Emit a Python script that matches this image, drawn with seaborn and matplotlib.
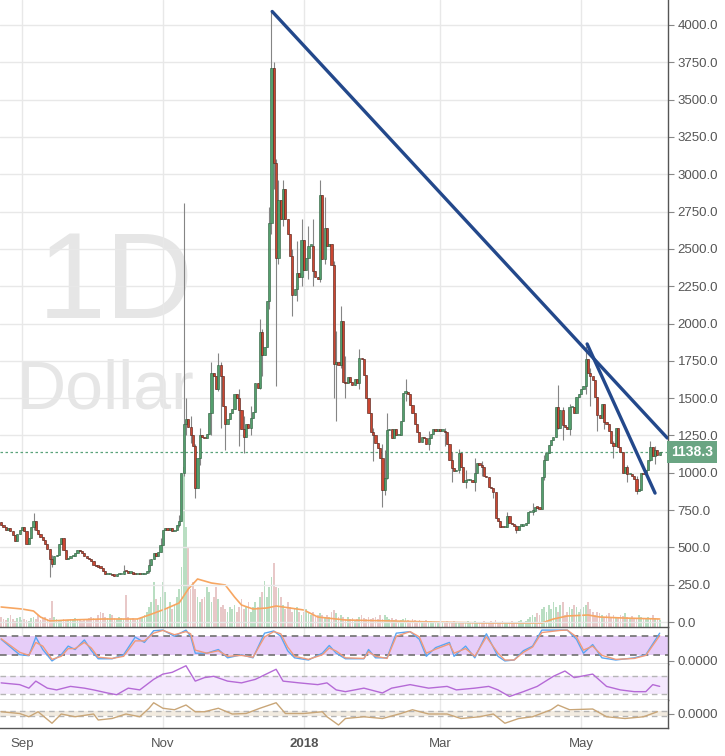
import numpy as np
import pandas as pd
import seaborn as sns
import matplotlib.pyplot as plt
from matplotlib.transforms import blended_transform_factory

sns.set_style('white')
plt.rcParams['font.family'] = ['Liberation Sans', 'DejaVu Sans']

# daily candles, 23 Aug 2017 .. 4 Jun 2018 (x = days since 1 Sep 2017)
origin = pd.Timestamp('2017-09-01')
dates = pd.date_range('2017-08-23', '2018-06-04', freq='D')

open_first = 670
closes = [
    650, 640, 620, 630, 610, 580, 545, 590, 620, 640,
    610, 520, 560, 640, 680, 620, 590, 570, 550, 520,
    490, 420, 390, 440, 450, 520, 560, 480, 420, 430,
    440, 440, 460, 480, 475, 460, 440, 430, 420, 410,
    380, 375, 370, 365, 345, 320, 320, 325, 315, 310,
    320, 320, 325, 345, 340, 330, 330, 325, 320, 325,
    320, 320, 330, 345, 380, 420, 460, 440, 470, 515,
    615, 630, 620, 630, 610, 620, 650, 680, 1000, 1330,
    1360, 1310, 1250, 1180, 900, 1100, 1250, 1240, 1230, 1260,
    1400, 1670, 1650, 1560, 1720, 1650, 1450, 1330, 1360, 1400,
    1430, 1530, 1500, 1420, 1290, 1240, 1330, 1300, 1370, 1410,
    1600, 1570, 1940, 1790, 1840, 2150, 2670, 3710, 3075, 2440,
    2830, 2700, 2900, 2700, 2600, 2450, 2190, 2230, 2340, 2310,
    2560, 2360, 2440, 2520, 2520, 2350, 2310, 2300, 2860, 2435,
    2640, 2520, 2530, 2390, 1730, 1740, 1720, 2020, 1610, 1600,
    1640, 1610, 1590, 1630, 1600, 1770, 1760, 1655, 1500, 1400,
    1275, 1250, 1200, 1165, 1100, 885, 965, 1285, 1290, 1230,
    1290, 1250, 1250, 1350, 1535, 1540, 1530, 1455, 1400, 1330,
    1275, 1205, 1240, 1230, 1195, 1230, 1260, 1290, 1280, 1285,
    1280, 1280, 1270, 1190, 1085, 1030, 1010, 1020, 1130, 1040,
    935, 950, 950, 955, 940, 1000, 1065, 1055, 1040, 980,
    970, 905, 895, 870, 700, 680, 640, 635, 640, 710,
    665, 655, 645, 615, 645, 645, 650, 665, 735, 740,
    745, 770, 765, 760, 975, 1085, 1130, 1185, 1220, 1240,
    1440, 1300, 1420, 1320, 1310, 1290, 1440, 1440, 1400, 1510,
    1530, 1560, 1580, 1760, 1670, 1650, 1620, 1510, 1390, 1370,
    1460, 1340, 1330, 1280, 1200, 1180, 1300, 1175, 1140, 1000,
    1040, 990, 995, 980, 960, 880, 885, 1000, 990, 1020,
    1085, 1170, 1110, 1155, 1120, 1138.3,
]

# visible wicks (day, high, low)
wick_days = [5, 12, 13, 44, 55, 60, 68, 70, 71, 73, 75, 77, 82, 85, 86, 88, 94, 96, 99,
             103, 104, 107, 108, 109, 110, 111, 113, 117, 119, 121, 124, 126, 129, 131,
             135, 136, 138, 140, 146, 152, 156, 157, 158, 166, 176, 183, 186, 189, 192,
             196, 199, 204, 210, 214, 221, 226, 232, 234, 237, 244, 246, 249, 252, 256,
             262, 266, 272, 274]
wick_high = [730, 420, 450, 380, 420, 560, 720, 2810, 1500, 1380, 1190, 1300, 1740, 1800,
             1740, 1420, 1560, 1380, 1450, 2030, 1960, 2780, 4090, 3750, 3100, 2960, 2960,
             2500, 2550, 2700, 2650, 2700, 2960, 2850, 2420, 1950, 2120, 1780, 1830, 1300,
             1190, 1150, 1400, 1630, 1280, 1300, 1140, 1160, 1020, 1100, 1080, 900, 740,
             650, 800, 1120, 1590, 1440, 1460, 1850, 1700, 1500, 1450, 1210, 1050, 980,
             1210, 1180]
wick_low = [620, 300, 370, 320, 330, 470, 640, 980, 1250, 1200, 830, 1050, 1250, 1550,
            1300, 1150, 1180, 1130, 1250, 1560, 1650, 2100, 2600, 2900, 1580, 2400, 2650,
            2050, 2150, 2250, 2300, 2250, 2280, 2400, 1500, 1350, 1700, 1500, 1560, 1080,
            770, 850, 960, 1480, 1150, 1180, 940, 1000, 900, 880, 980, 830, 640, 600, 720,
            950, 1290, 1220, 1250, 1530, 1450, 1280, 1290, 1100, 940, 860, 1080, 1060]

volume = [
    10, 8, 7, 9, 12, 8, 6, 9, 10, 7,
    8, 7, 6, 9, 10, 8, 12, 7, 9, 10,
    8, 9, 26, 10, 8, 6, 7, 8, 6, 7,
    8, 7, 9, 8, 7, 6, 8, 7, 9, 10,
    9, 8, 12, 15, 14, 10, 9, 13, 12, 9,
    8, 10, 9, 8, 32, 10, 8, 9, 7, 8,
    9, 10, 12, 15, 20, 25, 45, 28, 22, 30,
    45, 35, 20, 25, 18, 22, 30, 38, 60, 160,
    100, 80, 38, 45, 38, 30, 25, 28, 30, 40,
    35, 25, 30, 40, 28, 20, 22, 18, 15, 20,
    18, 22, 15, 20, 28, 18, 20, 25, 15, 20,
    25, 20, 30, 35, 46, 30, 40, 50, 64, 40,
    39, 30, 22, 18, 25, 20, 15, 18, 20, 15,
    12, 15, 18, 14, 12, 15, 10, 12, 14, 12,
    10, 12, 10, 15, 17, 14, 10, 12, 10, 8,
    10, 8, 9, 7, 8, 10, 12, 9, 8, 10,
    8, 9, 10, 8, 12, 8, 12, 10, 8, 9,
    7, 8, 6, 7, 8, 9, 7, 6, 8, 7,
    6, 7, 5, 6, 7, 5, 6, 5, 4, 5,
    4, 5, 4, 6, 5, 4, 6, 5, 4, 5,
    4, 5, 6, 4, 5, 6, 4, 5, 4, 6,
    5, 4, 6, 5, 7, 5, 4, 6, 5, 4,
    5, 6, 4, 5, 6, 7, 5, 6, 8, 10,
    12, 10, 14, 12, 18, 20, 15, 22, 18, 25,
    20, 15, 22, 25, 12, 15, 20, 18, 22, 20,
    15, 18, 20, 22, 25, 18, 15, 12, 15, 14,
    12, 10, 12, 14, 10, 12, 9, 10, 12, 11,
    14, 10, 9, 11, 8, 9, 12, 10, 8, 9,
    10, 8, 12, 9, 8, 7,
]

vol_ma_days = [-9, 0, 5, 8, 12, 20, 35, 50, 55, 62, 68, 72, 76, 82, 88, 92, 95, 100, 106,
               110, 116, 122, 128, 140, 160, 178, 200, 225, 230, 236, 245, 250, 260, 276]
vol_ma = [20, 18, 16, 10, 6, 7, 8, 8, 12, 18, 24, 38, 48, 44, 42, 30, 22, 18, 19,
          21, 19, 17, 10, 7, 6, 5, 4, 4, 8, 11, 12, 10, 9, 8]

stoch_days = [-9, -1, 3, 6, 9, 13, 17, 20, 23, 27, 30, 33, 39, 44, 49, 53, 57, 61, 66, 71,
              73, 75, 80, 85, 89, 95, 100, 105, 109, 112, 115, 118, 124, 130, 133, 136,
              140, 148, 150, 153, 158, 162, 168, 172, 175, 179, 185, 187, 192, 196, 201,
              206, 209, 213, 217, 221, 225, 233, 236, 240, 243, 247, 251, 257, 265, 270, 276]
stoch_k = [70, 20, 17, 77, 37, 0, 20, 48, 37, 68, 34, 7, 7, 20, 77, 60, 98, 100, 80, 100,
           80, 25, 25, 37, 10, 20, 10, 90, 97, 80, 33, 10, 3, 25, 50, 25, 7, 7, 37, 10,
           10, 90, 95, 70, 15, 43, 60, 15, 48, 10, 88, 15, 0, 3, 33, 48, 100, 100, 100,
           70, 25, 53, 10, 3, 10, 20, 90]
stoch_d = [72, 28, 18, 60, 48, 5, 15, 40, 40, 60, 42, 12, 8, 15, 65, 65, 90, 99, 85, 95,
           88, 35, 25, 33, 15, 18, 12, 78, 95, 88, 45, 15, 5, 20, 42, 32, 10, 8, 30, 15,
           8, 80, 95, 78, 25, 38, 55, 25, 40, 15, 78, 25, 3, 3, 28, 45, 92, 99, 100, 78,
           35, 48, 18, 5, 8, 18, 82]

rsi_days = [-9, -1, 3, 6, 11, 15, 21, 27, 31, 37, 41, 46, 51, 57, 61, 65, 71, 75, 79, 83,
            89, 95, 101, 110, 113, 120, 128, 132, 136, 140, 148, 156, 160, 168, 176, 184,
            188, 196, 202, 206, 211, 217, 223, 230, 235, 239, 247, 253, 259, 265, 270,
            273, 276]
rsi_vals = [55, 51, 43, 59, 43, 39, 47, 43, 39, 32, 28, 43, 39, 63, 75, 79, 94, 59, 67, 70,
            59, 55, 63, 86, 59, 55, 51, 55, 39, 35, 43, 32, 43, 51, 43, 47, 39, 43, 47, 39,
            24, 35, 47, 70, 82, 67, 75, 47, 39, 35, 35, 51, 47]

osc_days = [-9, -1, 3, 7, 13, 17, 23, 31, 33, 39, 45, 51, 55, 57, 61, 66, 71, 75, 79, 85,
            91, 97, 103, 110, 114, 122, 130, 132, 137, 140, 148, 156, 164, 169, 176, 184,
            190, 198, 204, 209, 215, 221, 229, 232, 237, 247, 253, 261, 269, 275]
osc_vals = [0.7, 0.0, -1.3, 0.7, -3.9, -0.2, -1.3, -0.2, -2.6, -2.0, -0.2, -1.3, 2.1, 4.3,
            2.1, 1.5, 3.4, 0.7, 0.7, 2.1, -0.2, 0.0, 2.1, 4.3, 0.0, 0.0, 0.7, -1.3, -4.6,
            -2.0, -1.3, -2.0, 0.0, 1.5, -0.2, -0.2, -2.0, -1.3, -0.2, -3.9, -2.0, -1.3,
            1.5, 3.4, 1.5, 1.8, -1.3, -2.0, -1.3, 0.7]

trend_days = [[108.3, 279.3], [244.6, 274.0]]
trend_vals = [[4090, 1233], [1863, 864]]

month_ticks = ['2017-09-01', '2017-11-01', '2018-01-01', '2018-03-01', '2018-05-01']
month_labels = ['Sep', 'Nov', '2018', 'Mar', 'May']
last_price = 1138.3

# ---- prepare candles
x = (dates - origin).days.values
close = np.array(closes, dtype=float)
opens = np.r_[open_first, close[:-1]]
highs = np.maximum(opens, close)
lows = np.minimum(opens, close)
for d, h, l in zip(wick_days, wick_high, wick_low):
    i = d - x[0]
    highs[i] = max(highs[i], h)
    lows[i] = min(lows[i], l)
up = close >= opens
tick_x = [(pd.Timestamp(m) - origin).days for m in month_ticks]

green, red = '#539f6d', '#cc4631'
grid_c = '#e8e8e8'
axis_c = '#555555'

fig = plt.figure(figsize=(7.25, 7.56), dpi=100)
W = 668 / 725
H = 756
ax = fig.add_axes([0, 1 - 627 / H, W, 627 / H])
ax_s = fig.add_axes([0, 1 - 664 / H, W, 37 / H], sharex=ax)
ax_r = fig.add_axes([0, 1 - 700 / H, W, 36 / H], sharex=ax)
ax_o = fig.add_axes([0, 1 - 728 / H, W, 28 / H], sharex=ax)

# volume behind price
ax_v = ax.twinx()
ax_v.set_zorder(0)
ax.set_zorder(1)
ax.patch.set_visible(False)
ax_v.bar(x, volume, width=0.75, color=np.where(up, '#b9dec2', '#e8c8c8'), linewidth=0)
sns.lineplot(x=vol_ma_days, y=vol_ma, ax=ax_v, color='#f7a661', lw=1.2)
ax_v.set_ylim(0, 627)
ax_v.set_yticks([])
for s in ax_v.spines.values():
    s.set_visible(False)

# watermark
ax.text(0.057, 0.493, '1D', transform=ax.transAxes, fontsize=88, color='#e6e6e6',
        va='baseline', ha='left', zorder=0)
ax.text(0.025, 0.349, 'Dollar', transform=ax.transAxes, fontsize=49, color='#e6e6e6',
        va='baseline', ha='left', zorder=0)

# candles
ax.vlines(x, lows, highs, color='#858585', lw=0.8, zorder=2)
ax.bar(x, np.maximum(np.abs(close - opens), 10), bottom=np.minimum(opens, close),
       width=0.95, color=np.where(up, green, red),
       edgecolor=np.where(up, '#2c5a3b', '#4a1a12'), linewidth=0.4, zorder=3)

for td, tv in zip(trend_days, trend_vals):
    sns.lineplot(x=td, y=tv, ax=ax, color='#23488b', lw=2.4, solid_capstyle='round',
                 zorder=4)

ax.axhline(last_price, color='#5aa37a', lw=0.9, ls=(0, (2, 2)), zorder=1)
tr = blended_transform_factory(ax.transAxes, ax.transData)
ax.text(1.004, last_price, f'{last_price:.1f}', transform=tr, color='white',
        fontsize=10, fontweight='bold', va='center', ha='left', zorder=5,
        bbox=dict(boxstyle='square,pad=0.28', fc='#6aa583', ec='none'))

ax.set_xlim(-9.5, 279.6)
ax.set_ylim(-33, 4167)
ax.set_yticks(np.arange(0, 4001, 250))
ax.set_yticklabels([f'{v:.1f}' for v in np.arange(0, 4001, 250)])
ax.grid(True, color=grid_c, lw=1)
ax.set_axisbelow(True)

# stochastic RSI
ax_s.axhspan(20, 80, color='#e6cdf8', lw=0)
for lv in (20, 80):
    ax_s.axhline(lv, color='#707070', lw=1.2, ls=(0, (4, 3)))
sns.lineplot(x=stoch_days, y=stoch_k, ax=ax_s, color='#5aa6f2', lw=1)
sns.lineplot(x=stoch_days, y=stoch_d, ax=ax_s, color='#f09a7a', lw=1)
ax_s.set_ylim(-10, 110)
ax_s.set_yticks([0])
ax_s.set_yticklabels(['0.0000'])

# RSI
ax_r.axhspan(30, 70, color='#f4e8fd', lw=0)
for lv in (30, 70):
    ax_r.axhline(lv, color='#b5b5b5', lw=1, ls=(0, (4, 3)))
sns.lineplot(x=rsi_days, y=rsi_vals, ax=ax_r, color='#b56ad6', lw=1)
ax_r.set_ylim(16, 98)
ax_r.set_yticks([])

# oscillator
ax_o.axhspan(-1, 1, color='#f2ebe0', lw=0)
for lv in (-1, 1):
    ax_o.axhline(lv, color='#b5b5b5', lw=1, ls=(0, (4, 3)))
sns.lineplot(x=osc_days, y=osc_vals, ax=ax_o, color='#c9a678', lw=1)
ax_o.set_ylim(-5.8, 5.4)
ax_o.set_yticks([0])
ax_o.set_yticklabels(['0.0000'])

for a in (ax, ax_s, ax_r, ax_o):
    a.set_xlabel('')
    a.set_ylabel('')
    a.yaxis.tick_right()
    a.tick_params(axis='y', direction='out', length=4, width=0.8, color='#888888',
                  labelcolor=axis_c, labelsize=9.5, pad=3)
    a.spines['top'].set_visible(False)
    a.spines['left'].set_visible(False)
    a.spines['right'].set_color(axis_c)
    a.spines['bottom'].set_color(axis_c)
    a.spines['right'].set_linewidth(1)
    a.spines['bottom'].set_linewidth(1)
    if a is not ax:
        a.grid(True, axis='x', color=grid_c, lw=1)
        a.set_axisbelow(True)
    if a is not ax_o:
        a.tick_params(axis='x', length=0, labelbottom=False)

ax_o.set_xticks(tick_x)
ax_o.set_xticklabels(month_labels)
ax_o.tick_params(axis='x', direction='out', length=3, color='#888888',
                 labelcolor=axis_c, labelsize=9.5, pad=4)
ax_o.get_xticklabels()[2].set_fontweight('bold')

fig.savefig('out.png', dpi=100)
